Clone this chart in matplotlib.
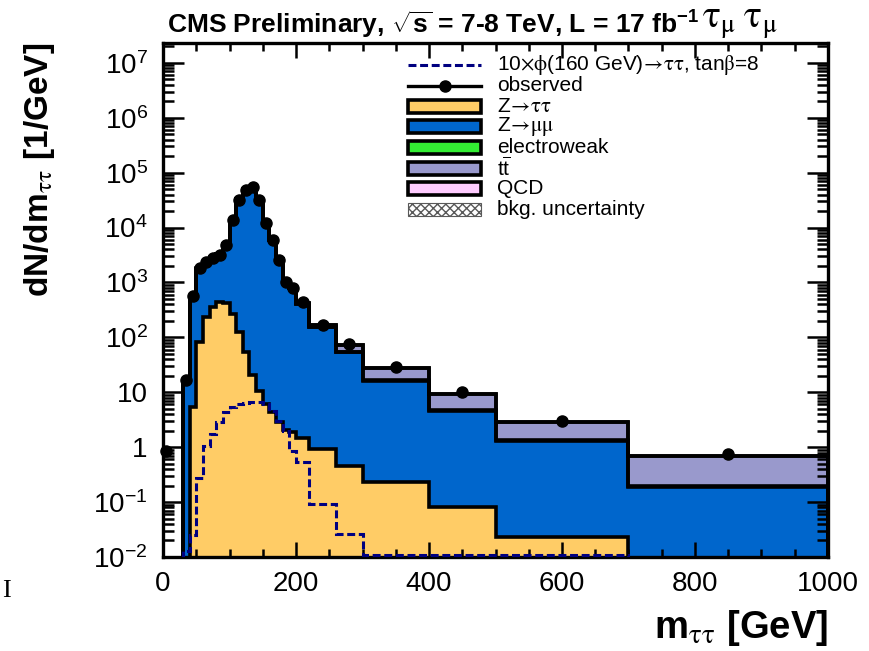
import numpy as np
import matplotlib
matplotlib.use('Agg')
import matplotlib.pyplot as plt
import matplotlib.ticker as mtick
from matplotlib.patches import Rectangle
from matplotlib.lines import Line2D

plt.rcParams['font.family'] = ['Liberation Sans', 'DejaVu Sans']
plt.rcParams['mathtext.fontset'] = 'custom'
plt.rcParams['mathtext.rm'] = 'Liberation Sans'
plt.rcParams['mathtext.it'] = 'Liberation Sans:italic'
plt.rcParams['mathtext.bf'] = 'Liberation Sans:bold'

# m_tautau binning [GeV]
bin_edges = [0, 10, 20, 30, 40, 50, 60, 70, 80, 90, 100, 110, 120, 130, 140,
             150, 160, 170, 180, 190, 200, 220, 260, 300, 400, 500, 700, 1000]

# background yields per bin [1/GeV]
ztt = [0, 0, 0, 0, 5.3, 84, 240, 365, 445, 420, 263, 123, 54, 21, 10.5, 6.0,
       4.3, 2.85, 2.1, 1.86, 1.5, 0.92, 0.45, 0.23, 0.081, 0.023, 0]
zmm = [0, 0, 0, 15.8, 512, 1710, 2150, 2520, 2840, 4560, 13700, 32860, 49920,
       51960, 31970, 12480, 5980, 2680, 1033, 784, 404, 151, 54, 16.1, 4.5, 1.3, 0.19]
ewk = [0, 0, 0, 0.1, 1, 3, 4, 5, 6, 8, 10, 12, 12, 11, 9, 7, 5, 4, 3, 2.5, 2,
       1.2, 0.6, 0.25, 0.1, 0.03, 0.01]
ttbar = [0, 0, 0, 0, 0.5, 1, 2, 3, 4, 5, 6, 7, 8, 8, 9, 9, 10, 10, 11, 11, 12,
         12, 17, 11, 4.5, 1.5, 0.49]
qcd = [0, 0, 0, 0.1, 1, 2, 2, 2, 2, 2, 2, 2, 1.5, 1.5, 1.2, 1, 0.8, 0.6, 0.5,
       0.4, 0.3, 0.2, 0.1, 0.05, 0.02, 0.005, 0.001]

# 10 x phi(160 GeV) -> tautau, tanb = 8
signal = [0, 0, 0, 0.013, 0.025, 0.28, 1.04, 1.72, 2.85, 4.3, 5.3, 6.0, 6.5,
          6.6, 6.6, 6.2, 4.5, 3.0, 1.95, 0.85, 0.54, 0.092, 0.026, 0.0108,
          0.0108, 0.0108, 0]

observed = [0.85, 0, 0, 17, 556, 1875, 2410, 2850, 3230, 4910, 13970, 32300,
            49100, 55600, 32300, 12300, 6050, 2620, 1040, 810, 433, 165, 75,
            28.5, 10, 2.97, 0.75]

y_ticks = [1e-2, 1e-1, 1, 10, 1e2, 1e3, 1e4, 1e5, 1e6, 1e7]
x_ticks = [0, 200, 400, 600, 800, 1000]

c_ztt = '#FFCC66'
c_zmm = '#0066CC'
c_ewk = '#33EE33'
c_tt = '#9999CC'
c_qcd = '#FFCCFF'
c_sig = '#000080'
sig_dash = (0, (2.6, 1.2))

edges = np.array(bin_edges, dtype=float)
floor = 1e-4

# stack: ztt at the bottom, qcd on top
layers = [(ztt, c_ztt), (zmm, c_zmm), (ewk, c_ewk), (ttbar, c_tt), (qcd, c_qcd)]
cum = []
running = np.zeros(len(ztt))
for vals, col in layers:
    running = running + np.array(vals, dtype=float)
    cum.append((running.copy(), col))

W, H = 869, 651
fig = plt.figure(figsize=(W / 100, H / 100), dpi=100)
ax = fig.add_axes([0.1876, 0.1444, 0.7652, 0.7895])
ax.set_yscale('log')

for vals, col in reversed(cum):
    ax.stairs(np.maximum(vals, floor), edges, baseline=floor, fill=True,
              facecolor=col, edgecolor='none', zorder=1)
    ax.stairs(np.maximum(vals, floor), edges, baseline=floor, fill=False,
              color='black', linewidth=2.6, zorder=1.1)

ax.stairs(np.maximum(signal, floor), edges, baseline=None, color=c_sig,
          linestyle=sig_dash, linewidth=2.2, zorder=3)

centers = 0.5 * (edges[1:] + edges[:-1])
obs = np.array(observed, dtype=float)
sel = obs > 0
ax.plot(centers[sel], obs[sel], 'o', color='black', markersize=8,
        zorder=4, clip_on=False)

ax.set_xlim(0, 1000)
ax.set_ylim(1e-2, 2.3e7)

ax.xaxis.set_major_locator(mtick.FixedLocator(x_ticks))
ax.xaxis.set_minor_locator(mtick.MultipleLocator(50))
ax.yaxis.set_major_locator(mtick.FixedLocator(y_ticks))
ax.yaxis.set_minor_locator(mtick.LogLocator(base=10, subs=np.arange(2, 10), numticks=30))


def fmt_log(v, pos):
    if np.isclose(v, 1):
        return '1'
    if np.isclose(v, 10):
        return '10'
    return r'$10^{%d}$' % int(round(np.log10(v)))


ax.yaxis.set_major_formatter(mtick.FuncFormatter(fmt_log))
ax.yaxis.set_minor_formatter(mtick.NullFormatter())

ax.tick_params(which='both', direction='in', top=True, right=True, width=1.8,
               colors='black')
ax.tick_params(axis='x', which='major', length=11, pad=10, labelsize=20)
ax.tick_params(axis='x', which='minor', length=5.5)
ax.tick_params(axis='y', which='major', length=15, pad=11, labelsize=20)
ax.tick_params(axis='y', which='minor', length=8)
for s in ax.spines.values():
    s.set_linewidth(2.4)
ax.set_axisbelow(False)

ax.set_xlabel(r'm$_{\mathrm{\tau\tau}}$ [GeV]', fontsize=27.5, fontweight='bold',
              loc='right', math_fontfamily='stix')
ax.xaxis.set_label_coords(1.0, -0.1)
ax.set_ylabel(r'dN/dm$_{\mathrm{\tau\tau}}$ [1/GeV]', fontsize=24,
              fontweight='bold', loc='top', math_fontfamily='stix')
ax.yaxis.set_label_coords(-0.16, 1.0)

t1 = fig.text(167 / W, 1 - 34 / H,
              r'CMS Preliminary, $\sqrt{\mathbf{s}}$ = 7-8 TeV, L = 17 fb$^{\mathbf{-1}}$',
              fontsize=19, fontweight='bold', ha='left', va='baseline')
ax.annotate(r'$\mathrm{\tau_{\mu}\;\tau_{\mu}}$', xy=(1, 0), xycoords=t1,
            xytext=(2, 0), textcoords='offset points', fontsize=27,
            math_fontfamily='stix', ha='left', va='bottom')

fig.text(2 / W, 1 - 591 / H, 'I', fontsize=19, family='Liberation Serif',
         ha='left', va='center')


# legend, laid out row by row in pixel positions
def fx(x):
    return x / W


def fy(y):
    return 1 - y / H


rows = [
    ('sig', r'10$\times\mathrm{\phi}$(160 GeV)$\!\rightarrow\!\mathrm{\tau\tau}$, tan$\mathrm{\beta}$=8', 'stix'),
    ('obs', 'observed', None),
    (c_ztt, r'Z$\!\rightarrow\!\mathrm{\tau\tau}$', 'stix'),
    (c_zmm, r'Z$\!\rightarrow\!\mathrm{\mu\mu}$', 'stix'),
    (c_ewk, 'electroweak', None),
    (c_tt, r't$\overline{\mathrm{t}}$', None),
    (c_qcd, 'QCD', None),
    ('unc', 'bkg. uncertainty', None),
]
x0, x1, xt = 408, 481, 497
for i, (kind, label, mfam) in enumerate(rows):
    y = 65 + 20.6 * i
    if kind == 'sig':
        fig.add_artist(Line2D([fx(x0), fx(x1)], [fy(y), fy(y)], color=c_sig,
                              linestyle=sig_dash, linewidth=2.2,
                              transform=fig.transFigure))
    elif kind == 'obs':
        fig.add_artist(Line2D([fx(x0), fx(x1)], [fy(y), fy(y)], color='black',
                              linewidth=2.4, transform=fig.transFigure))
        fig.add_artist(Line2D([fx(0.5 * (x0 + x1))], [fy(y)], color='black',
                              marker='o', markersize=8,
                              transform=fig.transFigure))
    elif kind == 'unc':
        fig.add_artist(Rectangle((fx(x0), fy(y + 6.5)), fx(x1) - fx(x0),
                                 13 / H, facecolor='white', edgecolor='0.35',
                                 hatch='xxxx', linewidth=0.8,
                                 transform=fig.transFigure))
    else:
        fig.add_artist(Rectangle((fx(x0), fy(y + 6.5)), fx(x1) - fx(x0),
                                 13 / H, facecolor=kind, edgecolor='black',
                                 linewidth=2.6, transform=fig.transFigure))
    kw = {}
    if mfam:
        kw['math_fontfamily'] = mfam
    fig.text(fx(xt), fy(y), label, fontsize=15, ha='left', va='center', **kw)

fig.savefig('out.png', dpi=100)
